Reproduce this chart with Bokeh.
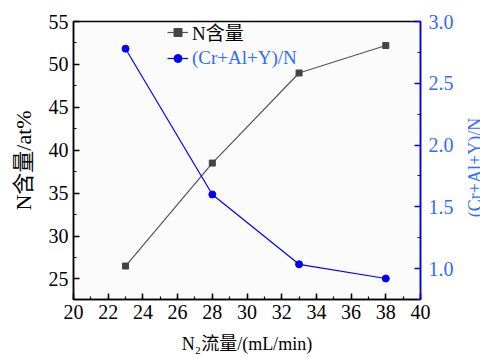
import math
from bokeh.plotting import figure
from bokeh.models import Range1d, LinearAxis, Legend, LegendItem, FixedTicker, PrintfTickFormatter, Label
from bokeh.embed import file_html
from bokeh.resources import INLINE

flow = [23, 28, 33, 38]
n_content = [26.5, 38.5, 49.0, 52.2]
ratio = [2.78, 1.60, 1.035, 0.92]

x_ticks = [20, 22, 24, 26, 28, 30, 32, 34, 36, 38, 40]
left_ticks = [25, 30, 35, 40, 45, 50, 55]
right_ticks = [1.0, 1.5, 2.0, 2.5, 3.0]

FONT = "Liberation Serif, Times New Roman, Noto Sans CJK SC"
BLUE = "#0000ff"
LBLUE = "#2f6cff"
GREY = "#555555"

p = figure(frame_width=347, frame_height=278, output_backend="svg", toolbar_location=None,
           x_range=Range1d(20, 40), y_range=Range1d(22.6, 55),
           min_border_left=73, min_border_right=60, min_border_top=21, min_border_bottom=59)
p.background_fill_color = "#fbfbfb"
p.border_fill_color = "white"
p.grid.visible = False
p.outline_line_color = "black"
p.outline_line_width = 1.5

p.extra_y_ranges = {"r": Range1d(0.75, 3.0)}
raxis = LinearAxis(y_range_name="r", ticker=FixedTicker(ticks=right_ticks,
                   minor_ticks=[0.75, 1.25, 1.5, 1.75, 2.0, 2.25, 2.5, 2.75]))
p.add_layout(raxis, "right")

p.xaxis.ticker = FixedTicker(ticks=x_ticks, minor_ticks=list(range(20, 41)))
p.yaxis[0].ticker = FixedTicker(ticks=left_ticks, minor_ticks=[22.5 + 2.5 * i for i in range(14)])
p.xaxis.axis_label = "N\u2082流量/(mL/min)"
p.yaxis[0].axis_label = "N含量/at%"

for ax in [p.xaxis[0], p.yaxis[0], raxis]:
    ax.major_tick_in = 6
    ax.major_tick_out = 0
    ax.minor_tick_in = 3
    ax.minor_tick_out = 0
    ax.axis_line_width = 1.5
    ax.major_tick_line_width = 1.5
    ax.minor_tick_line_width = 1.2
    ax.major_label_text_font = FONT
    ax.major_label_text_font_size = "20px"
    ax.axis_label_text_font = FONT
    ax.axis_label_text_font_size = "18px"
    ax.axis_label_text_font_style = "normal"
    ax.major_label_standoff = 5

p.yaxis[0].axis_label_text_font_size = "22px"
p.yaxis[0].axis_label_standoff = 10
p.xaxis[0].axis_label_standoff = 12
raxis.major_label_standoff = 8

for ax in [p.xaxis[0], p.yaxis[0]]:
    ax.axis_line_color = "black"
    ax.major_tick_line_color = "black"
    ax.minor_tick_line_color = "black"
    ax.major_label_text_color = "black"
    ax.axis_label_text_color = "black"

raxis.axis_line_color = BLUE
raxis.major_tick_line_color = BLUE
raxis.minor_tick_line_color = BLUE
raxis.major_label_text_color = LBLUE
raxis.formatter = PrintfTickFormatter(format="%.1f")

# right axis title as a label in the right side panel (screen units within the panel)
rlabel = Label(x=18, y=132, x_units="screen", y_units="screen", angle=math.pi / 2,
               text="(Cr+Al+Y)/N", text_font=FONT, text_font_size="18px",
               text_color=LBLUE, text_align="center", text_baseline="middle")
p.add_layout(rlabel, "right")

l1 = p.line(flow, n_content, line_color=GREY, line_width=1.2)
s1 = p.scatter(flow, n_content, marker="square", size=6, fill_color="#444444", line_color="#444444")
l2 = p.line(flow, ratio, y_range_name="r", line_color=BLUE, line_width=1.2)
s2 = p.scatter(flow, ratio, y_range_name="r", marker="circle", size=7, fill_color=BLUE, line_color=BLUE)

# small legend markers (placed outside the visible ranges)
lm1 = p.scatter([0], [0], marker="square", size=5, fill_color="#444444", line_color="#444444")
lm2 = p.scatter([0], [0], marker="circle", size=6, fill_color=BLUE, line_color=BLUE)


def make_legend(item, color, loc):
    lg = Legend(items=[item], location=loc)
    lg.background_fill_alpha = 0
    lg.border_line_alpha = 0
    lg.label_text_font = FONT
    lg.label_text_font_size = "19px"
    lg.label_text_color = color
    lg.glyph_width = 21
    lg.glyph_height = 20
    lg.label_standoff = 4
    lg.padding = 0
    lg.margin = 0
    return lg


p.add_layout(make_legend(LegendItem(label="N含量", renderers=[l1, lm1]), "black", (94, 254)), "center")
p.add_layout(make_legend(LegendItem(label="(Cr+Al+Y)/N", renderers=[l2, lm2]), LBLUE, (94, 230)), "center")

open("out.html", "w").write(file_html(p, INLINE))
